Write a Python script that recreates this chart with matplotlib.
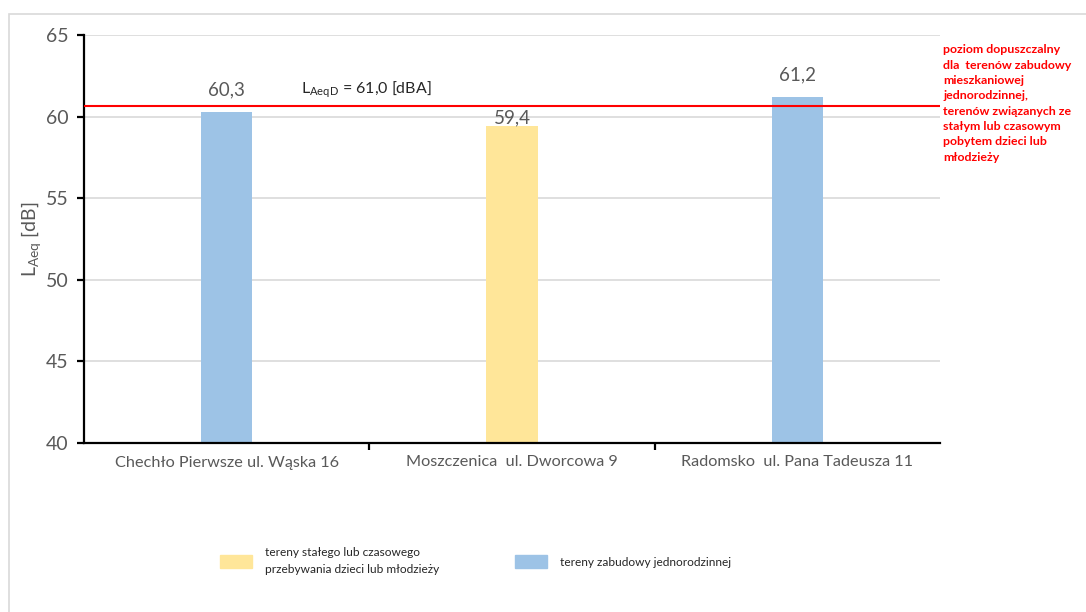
import matplotlib.pyplot as plt
from matplotlib.patches import Rectangle, Patch

# data
sites = ['Chechło Pierwsze ul. Wąska 16', 'Moszczenica  ul. Dworcowa 9', 'Radomsko  ul. Pana Tadeusza 11']
levels = [60.3, 59.4, 61.2]
labels = ['60,3', '59,4', '61,2']
kinds = ['blue', 'yellow', 'blue']
limit_drawn = 60.65   # where the red line sits in the picture
limit_text = r'$\mathregular{L_{AeqD}}$ = 61,0 [dBA]'
limit_note = ('poziom dopuszczalny\ndla  terenów zabudowy\nmieszkaniowej\njednorodzinnej,\n'
              'terenów związanych ze\nstałym lub czasowym\npobytem dzieci lub\nmłodzieży')
legend_labels = ['tereny stałego lub czasowego\nprzebywania dzieci lub młodzieży',
                 'tereny zabudowy jednorodzinnej']

colors = {'blue': '#9dc3e6', 'yellow': '#ffe699'}
grey = '#595959'

plt.rcParams['font.family'] = ['Lato', 'DejaVu Sans']

W, H = 1086, 612
fig = plt.figure(figsize=(W / 100, H / 100), dpi=100)
ax = fig.add_axes([84 / W, 1 - 443 / H, (940 - 84) / W, (443 - 35) / H])

# outer chart frame
fig.patches.append(Rectangle((9 / W, -0.1), 1.2, 1 - 14 / H + 0.1, transform=fig.transFigure,
                             fill=False, edgecolor='#d9d9d9', lw=1.2))

x = range(len(sites))
ax.bar(x, levels, width=0.18, bottom=0, color=[colors[k] for k in kinds], zorder=2)
# the middle label sits lower in the original (kept clear of the red line)
label_gap = [1.35, 0.55, 1.35]
for xi, v, lab, g in zip(x, levels, labels, label_gap):
    ax.text(xi, v + g, lab, ha='center', va='center', fontsize=13.5, color=grey)

ax.set_xlim(-0.5, 2.5)
ax.set_ylim(40, 65)
ax.set_yticks(range(40, 66, 5))
ax.grid(axis='y', color='#d9d9d9', lw=1.2, zorder=0)
ax.set_axisbelow(True)

ax.axhline(limit_drawn, color='#ff0000', lw=1.5, zorder=3)
ax.text(0.49, 61.65, limit_text, ha='center', va='center', fontsize=11.5, color='#262626')
ax.text(1.004, 0.977, limit_note, transform=ax.transAxes, ha='left', va='top',
        fontsize=8.9, color='#ff0000', fontweight='bold', linespacing=1.48)

for s in ['top', 'right']:
    ax.spines[s].set_visible(False)
for s in ['left', 'bottom']:
    ax.spines[s].set_linewidth(1.6)
    ax.spines[s].set_color('black')

ax.set_xticks([0.5, 1.5], minor=False)
ax.set_xticklabels([])
ax.set_xticks(list(x), minor=True)
ax.set_xticklabels(sites, minor=True, fontsize=11.7, color=grey)
ax.tick_params(axis='x', which='minor', length=0, pad=9)
ax.tick_params(axis='x', which='major', length=5, width=1.6)
ax.tick_params(axis='y', length=5, width=1.6, labelsize=14, labelcolor=grey, pad=6)
ax.set_ylabel(r'$\mathregular{L_{Aeq}}$ [dB]', fontsize=14, color=grey, labelpad=2)

handles = [Patch(color=colors['yellow']), Patch(color=colors['blue'])]
leg = fig.legend(handles, legend_labels, loc='center left', bbox_to_anchor=(209 / W, 1 - 561 / H),
                 ncol=2, frameon=False, fontsize=8.6, handlelength=2.7, handleheight=1.3,
                 columnspacing=6.3, handletextpad=1.1, labelcolor='#262626')
for t in leg.get_texts():
    t.set_linespacing(1.6)

fig.savefig('out.png', dpi=100)
